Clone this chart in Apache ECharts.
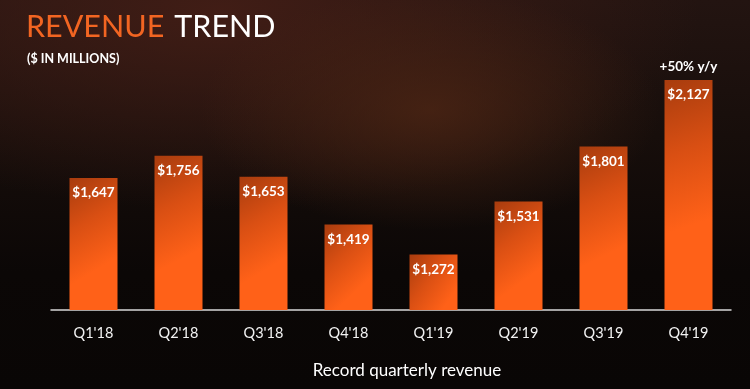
<!DOCTYPE html>
<html>
<head>
<meta charset="utf-8">
<script src="https://cdn.jsdelivr.net/npm/echarts@6/dist/echarts.min.js"></script>
<style>
html,body{margin:0;padding:0;}
#chart{width:750px;height:389px;
background:
radial-gradient(ellipse 230px 120px at 430px 110px, rgba(78,38,20,0.75), rgba(78,38,20,0) 100%),
radial-gradient(ellipse 480px 200px at 220px 10px, rgba(68,30,22,0.9), rgba(68,30,22,0) 100%),
linear-gradient(180deg, #231411 0%, #170e0b 35%, #0b0706 70%, #090605 100%);
}
</style>
</head>
<body>
<div id="chart"></div>
<script>
var categories = ["Q1'18","Q2'18","Q3'18","Q4'18","Q1'19","Q2'19","Q3'19","Q4'19"];
var revenue = [1647,1756,1653,1419,1272,1531,1801,2127];
var annotationText = "+50% y/y";
var titleMain = "REVENUE";
var titleSecond = "TREND";
var subtitle = "($ IN MILLIONS)";
var footer = "Record quarterly revenue";

var chart = echarts.init(document.getElementById('chart'), null, {renderer:'canvas'});
var font = "Lato, 'Open Sans', sans-serif";
var barGrad = new echarts.graphic.LinearGradient(0,0,1,0.6,[
  {offset:0,color:'#a83c0e'},
  {offset:0.5,color:'#d94f13'},
  {offset:1,color:'#ff6118'}
]);
chart.setOption({
  backgroundColor:'transparent',
  animation:false,
  title:[{
    text:'{a|'+titleMain+'}{b|'+titleSecond+'}',
    left:21, top:7,
    textStyle:{fontWeight:'normal',rich:{
      a:{fontSize:30.5,color:'#f26522',fontFamily:font,fontWeight:'normal',padding:[0,10,0,0]},
      b:{fontSize:30.5,color:'#ffffff',fontFamily:font,fontWeight:'normal'}
    }}
  },{
    text:subtitle,
    left:22, top:47,
    textStyle:{fontSize:12.5,fontWeight:'bold',color:'#ffffff',fontFamily:font}
  },{
    text:footer,
    left:402, top:357, textAlign:'center',
    textStyle:{fontSize:17,fontWeight:'normal',color:'#ffffff',fontFamily:font}
  }],
  grid:{left:51,right:19,top:65,bottom:79},
  xAxis:{
    type:'category',
    data:categories,
    axisLine:{lineStyle:{color:'#d8d8d8',width:1.5}},
    axisTick:{show:false},
    axisLabel:{color:'#f2f2f2',fontSize:14.5,margin:16,fontFamily:font}
  },
  yAxis:{
    type:'value',min:1000,max:2200,
    show:false,
    splitLine:{show:false}
  },
  series:[{
    type:'bar',
    data:revenue,
    barWidth:48,
    itemStyle:{color:barGrad},
    label:{
      show:true,position:'insideTop',distance:8,
      color:'#ffffff',fontSize:13.5,fontWeight:'bold',fontFamily:font,
      formatter:function(p){return '$'+p.value.toLocaleString('en-US');}
    },
    markPoint:{
      symbol:'rect',symbolSize:[1,1],
      itemStyle:{color:'transparent'},
      label:{show:true,position:'top',distance:6,color:'#ffffff',fontSize:13.5,fontWeight:'bold',fontFamily:font,formatter:annotationText},
      data:[{coord:[categories.length-1, revenue[revenue.length-1]]}]
    }
  }]
});
</script>
</body>
</html>
